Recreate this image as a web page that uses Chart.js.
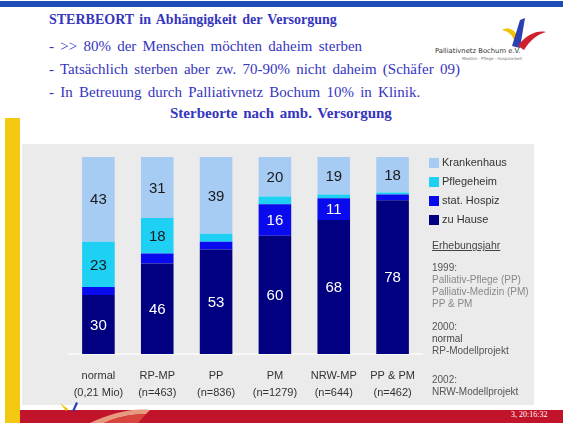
<!DOCTYPE html>
<html>
<head>
<meta charset="utf-8">
<script src="https://cdn.jsdelivr.net/npm/chart.js@4/dist/chart.umd.min.js"></script>
<style>
  body { margin: 0; width: 563px; height: 423px; background: #fff; position: relative; overflow: hidden; }
  .abs { position: absolute; }
  .slide-text { font-family: "Liberation Serif", "DejaVu Serif", serif; color: #3535c0; white-space: nowrap; word-spacing: 2px; }
  .legend { font-family: "Liberation Sans", Arial, sans-serif; color: #333; white-space: nowrap; }
  .box { position: absolute; width: 10px; height: 10px; }
  .note { font-family: "Liberation Sans", Arial, sans-serif; font-size: 10px; white-space: nowrap; line-height: 12px; }
</style>
</head>
<body>
<div class="abs" style="left:0;top:1px;width:563px;height:6px;background:#1e4db7"></div>

<div class="abs slide-text" style="left:49px;top:12px;font-size:14px;font-weight:bold">STERBEORT in Abhängigkeit der Versorgung</div>
<div class="abs slide-text" style="left:49px;top:38px;font-size:15px;word-spacing:2.5px">- &gt;&gt; 80% der Menschen möchten daheim sterben</div>
<div class="abs slide-text" style="left:49px;top:61px;font-size:15px;word-spacing:2.5px">- Tatsächlich sterben aber zw. 70-90% nicht daheim (Schäfer 09)</div>
<div class="abs slide-text" style="left:49px;top:84px;font-size:15px;word-spacing:2.5px">- In Betreuung durch Palliativnetz Bochum 10% in Klinik.</div>
<div class="abs slide-text" style="left:170px;top:105px;font-size:15px;font-weight:bold">Sterbeorte nach amb. Versorgung</div>

<!-- logo -->
<svg class="abs" style="left:498px;top:16px" width="50" height="36" viewBox="0 0 50 36">
  <path d="M4 14 C10 10 18 14 20 22 L16 24 C14 18 9 15 4 14 Z" fill="#f2c200"/>
  <path d="M14 30 L22 4 L27 2 L22 32 Z" fill="#2c3fb0"/>
  <path d="M20 30 C28 18 40 14 48 16 C40 18 32 24 26 34 Z" fill="#d0202c"/>
</svg>
<div class="abs" style="left:435px;top:47px;font-family:'DejaVu Sans',sans-serif;font-size:6.8px;color:#333;white-space:nowrap">Palliativnetz Bochum e.V.</div>
<div class="abs" style="left:462px;top:56px;font-family:'DejaVu Sans',sans-serif;font-size:4px;color:#777;white-space:nowrap">Medizin · Pflege · Hospizarbeit</div>

<div class="abs" style="left:5px;top:118px;width:15px;height:305px;background:#f5c812"></div>
<div class="abs" style="left:22px;top:144px;width:512px;height:261px;background:#ebebeb"></div>
<div class="abs" style="left:20px;top:410px;width:543px;height:13px;background:#c1142b"></div>
<!-- Logo-Wasserzeichen unten -->
<svg class="abs" style="left:50px;top:400px" width="110" height="23" viewBox="0 0 110 23">
  <path d="M40 23 C60 14 80 8 100 10 L96 14 C80 14 64 18 54 23 Z" fill="#e89a80"/>
  <path d="M54 23 C64 18 80 14 96 14 L88 23 Z" fill="#d8453c"/>
  <path d="M10 3 L18 9 L16 11 Z" fill="#f2c200"/>
  <path d="M22 11 L26 2 L28 3 L24 12 Z" fill="#2c3fb0"/>
</svg>
<div class="abs" style="left:511px;top:410px;font-family:'Liberation Serif',serif;font-size:8px;color:#fff;white-space:nowrap">3, 20:16:32</div>

<canvas id="chart" class="abs" style="left:22px;top:144px" width="512" height="280"></canvas>

<div id="legend" class="abs legend" style="left:429px;top:0;font-size:11px"></div>

<div class="abs note" style="left:432px;top:239px;font-size:10.5px;color:#444;text-decoration:underline">Erhebungsjahr</div>
<div class="abs note" style="left:432px;top:262px;color:#555">1999:</div>
<div class="abs note" style="left:432px;top:274px;color:#888">Palliativ-Pflege (PP)</div>
<div class="abs note" style="left:432px;top:286px;color:#888">Palliativ-Medizin (PM)</div>
<div class="abs note" style="left:432px;top:298px;color:#888">PP &amp; PM</div>
<div class="abs note" style="left:432px;top:321px;color:#555">2000:</div>
<div class="abs note" style="left:432px;top:333px;color:#444">normal</div>
<div class="abs note" style="left:432px;top:345px;color:#555">RP-Modellprojekt</div>
<div class="abs note" style="left:432px;top:374px;color:#555">2002:</div>
<div class="abs note" style="left:432px;top:386px;color:#555">NRW-Modellprojekt</div>

<script>
// Kategorien und Fallzahlen
const categories = ['normal', 'RP-MP', 'PP', 'PM', 'NRW-MP', 'PP & PM'];
const subLabels = ['(0,21 Mio)', '(n=463)', '(n=836)', '(n=1279)', '(n=644)', '(n=462)'];

// Sterbeorte in %
const zuHause = [30, 46, 53, 60, 68, 78];
const hospiz = [4, 5, 4, 16, 11, 3];
const pflegeheim = [23, 18, 4, 4, 2, 1];
const krankenhaus = [43, 31, 39, 20, 19, 18];

const seriesNames = ['zu Hause', 'stat. Hospiz', 'Pflegeheim', 'Krankenhaus'];
const seriesColors = ['#000080', '#0a0aee', '#1ed0f4', '#a6ccf4'];
const labelColors = ['#ffffff', '#ffffff', '#1a1a1a', '#1a1a1a'];

// Zahlen in die Balken schreiben (nur ab 10%)
const valueLabels = {
    id: 'valueLabels',
    afterDatasetsDraw(chart) {
        const ctx = chart.ctx;
        ctx.save();
        ctx.font = '15px "Liberation Sans", Arial, sans-serif';
        ctx.textAlign = 'center';
        ctx.textBaseline = 'middle';
        chart.data.datasets.forEach((ds, i) => {
            chart.getDatasetMeta(i).data.forEach((bar, j) => {
                if (ds.data[j] < 10) return;
                ctx.fillStyle = labelColors[i];
                ctx.fillText(ds.data[j], bar.x, (bar.y + bar.base) / 2 + 1);
            });
        });
        ctx.restore();
    }
};

const datasets = [zuHause, hospiz, pflegeheim, krankenhaus].map((d, i) => ({
    label: seriesNames[i],
    data: d,
    backgroundColor: seriesColors[i],
    borderWidth: 0,
    barPercentage: 0.554,
    categoryPercentage: 1
}));

new Chart(document.getElementById('chart'), {
    type: 'bar',
    data: {
        labels: categories.map((c, i) => [c, subLabels[i]]),
        datasets: datasets
    },
    options: {
        responsive: false,
        animation: false,
        devicePixelRatio: 1,
        layout: { padding: { left: 47, right: 112, top: 13, bottom: 9 } },
        plugins: { legend: { display: false }, tooltip: { enabled: false } },
        scales: {
            x: {
                stacked: true,
                grid: { display: false, drawTicks: false },
                border: { display: true, color: '#f8f8f8', width: 2 },
                ticks: {
                    color: '#333',
                    padding: 14,
                    font: { family: '"Liberation Sans", Arial, sans-serif', size: 11, lineHeight: 1.5 }
                }
            },
            y: { stacked: true, min: 0, max: 100, display: false }
        }
    },
    plugins: [valueLabels]
});

// Legende (Krankenhaus oben)
const legend = document.getElementById('legend');
const legendTops = [157, 176, 195, 214];
[3, 2, 1, 0].forEach((s, k) => {
    const row = document.createElement('div');
    row.style.cssText = 'position:absolute;left:0;top:' + legendTops[k] + 'px;height:12px;';
    row.innerHTML = '<span class="box" style="left:0;top:1px;background:' + seriesColors[s] + '"></span>' +
        '<span style="position:absolute;left:13px;top:-1px">' + seriesNames[s] + '</span>';
    legend.appendChild(row);
});
</script>
</body>
</html>
